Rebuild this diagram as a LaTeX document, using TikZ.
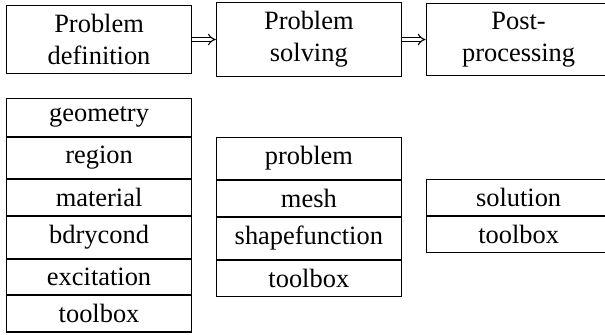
\documentclass[tikz,border=0pt]{standalone}
\usepackage{fontspec}
\setmainfont{Liberation Serif}
\usetikzlibrary{positioning,arrows.meta}
\begin{document}
\begin{tikzpicture}[
    stage/.style={draw,minimum width=70pt,align=center},
    item/.style={draw,minimum width=70pt},
    implies/.style={double,double distance=1.1pt,-{Implies[scale=1.2]}},
    node distance=9pt]
  \useasboundingbox (0,0) rectangle (229pt,126.6pt);
  % the three stages
  \node[stage,anchor=north west] (def) at (2.3pt,124.7pt) {Problem\\definition};
  \node[stage,right=of def] (solve) {Problem\\solving};
  \node[stage,right=of solve] (post) {Post-\\processing};
  \draw[implies] (def) -- (solve);
  \draw[implies] (solve) -- (post);
  % definition classes
  \node[item,below=of def] (geometry) {geometry};
  \node[item,below=0pt of geometry] (region) {region};
  \node[item,below=0pt of region] (material) {material};
  \node[item,below=0pt of material] (bdrycond) {bdrycond};
  \node[item,below=0pt of bdrycond] (excitation) {excitation};
  \node[item,below=0pt of excitation] (deftool) {toolbox};
  % solving classes
  \node[item,anchor=north] (problem) at (region.north -| solve) {problem};
  \node[item,below=0pt of problem] (mesh) {mesh};
  \node[item,below=0pt of mesh] (shape) {shapefunction};
  \node[item,below=0pt of shape] (solvetool) {toolbox};
  % post-processing classes
  \node[item,anchor=north] (solution) at (material.north -| post) {solution};
  \node[item,below=0pt of solution] (posttool) {toolbox};
\end{tikzpicture}
\end{document}
